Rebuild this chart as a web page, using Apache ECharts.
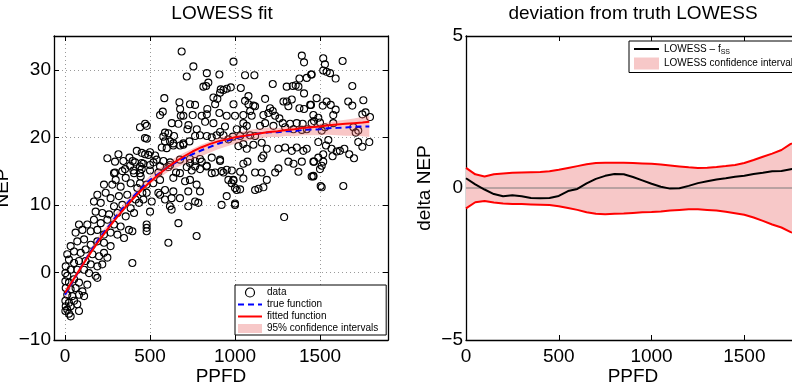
<!DOCTYPE html>
<html><head><meta charset="utf-8">
<script src="https://cdn.jsdelivr.net/npm/echarts@6/dist/echarts.min.js"></script>
<style>html,body{margin:0;padding:0;background:#fff}#c{width:792px;height:385px}</style>
</head><body><div id="c"></div>
<script>
const FONT = '"Liberation Sans", Arial, Helvetica, sans-serif';

// ---------- data ----------
const xTickValues = [0, 500, 1000, 1500];
const leftYTickValues = [-10, 0, 10, 20, 30];
const rightYTickValues = [-5, 0, 5];

// observations [PPFD, NEP]
const dataPoints = [
[1519,31.7],[1529,30.8],[1519,29.9],[1539,29.7],[1559,29.5],[1592,28.7],[1633,31.3],[1451,29.3],[1690,27.6],[1480,25.8],
[1447,24.8],[1516,24.7],[1539,25.3],[1563,24.8],[1592,24.1],[1578,23.3],[1461,23.3],[1490,22.9],[1465,22.4],[1500,22.2],
[1529,21.5],[1510,21.0],[1666,25.3],[1690,24.7],[1755,25.5],[1749,23.4],[1768,23.7],[1794,23.0],[1578,22.1],[1696,21.5],
[1725,21.0],[1710,20.7],[1490,19.3],[1535,18.8],[1549,19.6],[1568,18.3],[1598,17.9],[1574,17.2],[1617,18.0],[1643,18.3],
[1672,17.5],[1700,16.9],[1725,19.3],[1749,18.6],[1790,19.3],[1519,17.5],[1490,17.0],[1465,16.4],[1519,16.4],[1510,15.8],
[1500,15.3],[1461,14.3],[1451,14.2],[1504,12.8],[1510,12.6],[1637,12.8],
[1393,32.1],[1406,31.1],[991,31.2],[1059,29.2],[1114,29.2],[1448,29.3],[1422,28.8],[1379,28.7],[1222,27.9],[975,27.4],
[1034,27.3],[1304,27.5],[1340,27.6],[1357,27.7],[1373,27.5],[1406,26.5],[1177,25.7],[1079,26.1],[1059,25.4],[1108,24.7],
[991,24.9],[1079,24.9],[1118,24.6],[1089,23.9],[1049,23.3],[1098,23.2],[1000,23.2],[1167,23.3],[1206,24.3],[1222,23.9],
[1196,23.6],[1236,23.2],[1442,24.8],[1379,24.3],[1406,24.2],[1285,25.3],[1304,25.3],[1334,25.6],[1314,24.6],[1261,22.8],
[1049,22.1],[1069,21.7],[1010,21.2],[1147,21.7],[1177,22.1],[1118,20.2],[1089,20.3],[1049,21.1],[1226,21.7],[1281,22.1],
[1295,21.5],[1324,22.0],[1363,22.1],[1398,22.0],[1451,22.1],[1344,21.2],[1393,21.1],[1422,21.2],[1030,20.2],[987,20.1],
[1049,19.0],[1069,18.3],[1020,18.7],[1108,18.9],[1157,19.2],[1187,18.3],[1255,18.3],[1295,18.5],[1334,18.0],[1363,18.5],
[1402,18.0],[1422,18.3],[1461,16.4],[1167,17.3],[1157,16.9],[1314,16.4],[1344,16.1],[1393,16.4],[1373,14.9],[1255,15.4],
[1236,14.8],[1157,14.8],[1118,14.8],[1073,16.4],[1049,16.1],[1030,14.9],[1049,13.9],[991,13.6],[1000,12.5],[1030,12.3],
[1118,12.2],[1138,12.4],[1167,12.6],[1187,13.7],[1461,14.2],[981,15.1],[1000,10.2],[1289,8.2],
[686,32.7],[755,30.5],[716,29.0],[834,29.5],[908,29.3],[843,28.1],[830,27.6],[814,27.5],[916,27.1],[951,27.2],
[584,25.8],[673,25.2],[559,23.3],[575,23.8],[677,24.2],[681,23.2],[696,23.2],[735,24.9],[765,24.8],[837,24.2],
[883,24.9],[896,25.7],[873,25.9],[912,26.6],[932,27.0],[951,23.2],[908,23.6],[834,23.4],[804,23.2],[751,23.3],
[628,22.1],[667,22.0],[726,21.8],[471,22.0],[441,21.5],[481,21.7],[481,19.8],[588,20.7],[608,20.6],[641,20.2],
[720,21.2],[775,21.2],[824,22.3],[873,22.1],[912,20.8],[941,21.6],[249,16.9],[314,17.5],[294,16.4],[343,16.5],
[379,17.0],[398,16.5],[422,18.0],[471,17.5],[500,17.8],[530,17.3],[588,19.4],[618,19.4],[569,18.5],[598,18.4],
[637,18.8],[677,18.8],[696,19.1],[732,19.4],[765,20.2],[794,20.3],[834,20.2],[863,20.0],[892,20.3],[932,20.3],
[961,19.7],[383,15.8],[412,16.3],[461,16.1],[520,16.3],[579,16.5],[618,16.3],[735,16.8],[765,16.5],[794,16.8],
[834,15.8],[863,17.0],[912,16.5],[294,14.8],[353,15.3],[402,15.1],[451,15.3],[500,15.1],[549,14.8],[608,15.6],
[653,14.8],[716,15.6],[745,15.1],[794,15.3],[883,14.8],[932,14.8],
[470,19.9],[578,20.1],[637,19.1],[696,18.9],[451,17.7],[490,17.4],[539,16.7],[451,16.2],[500,15.9],[559,15.7],
[618,15.9],[676,16.7],[735,16.2],[765,15.7],[804,16.4],[833,15.7],[863,14.7],[912,16.7],[921,15.0],[951,15.2],
[961,13.7],[980,13.2],[1010,12.2],[990,13.7],[441,13.2],[480,13.0],[519,13.2],[559,13.7],[637,14.0],[676,14.7],
[706,13.5],[735,13.7],[774,13.0],[794,12.0],[725,12.0],[637,12.0],[588,12.2],[549,11.8],[480,11.8],[461,10.8],
[510,10.5],[559,11.5],[588,10.8],[627,11.0],[617,9.8],[627,9.3],[676,11.0],[765,10.5],[725,9.8],[784,10.3],
[921,10.0],[1000,10.0],[951,11.3],[500,9.0],[480,7.1],[480,6.6],[480,6.1],[667,7.3],[774,5.4],[608,4.4],
[441,15.7],[441,14.7],
[288,14.7],[337,15.0],[406,14.7],[445,14.2],[298,13.7],[357,14.0],[229,13.0],[278,13.0],[327,12.7],[386,13.2],
[425,12.5],[455,11.8],[190,11.5],[239,11.8],[170,10.5],[210,10.3],[268,11.0],[317,11.3],[366,11.5],[415,10.8],
[435,10.3],[288,9.8],[337,10.0],[386,9.5],[180,9.0],[219,8.8],[259,8.6],[308,8.8],[357,8.3],[406,8.8],
[131,7.1],[170,7.8],[210,7.3],[249,7.8],[288,7.1],[327,6.8],[376,6.3],[396,6.1],[82,7.1],[62,5.9],
[102,6.3],[151,6.1],[190,6.3],[229,5.6],[268,5.9],[308,5.6],[347,5.1],[33,3.9],[72,4.6],[112,4.9],
[151,4.1],[190,4.6],[229,4.4],[268,3.9],[396,1.4],[13,2.7],[53,3.1],[92,2.9],[121,3.4],[161,2.7],
[200,2.4],[229,2.9],[23,1.9],[53,1.4],[82,1.7],[121,1.7],[151,1.2],[190,0.9],[219,1.2],[249,2.2],
[4,0.9],[2,-0.1],[33,0.4],[72,0.4],[112,0.4],[141,-0.1],[180,-0.5],[190,-0.8],[13,-0.5],[2,-1.3],
[23,-1.5],[53,-1.0],[82,-1.5],[131,-1.8],[4,-2.3],[33,-2.5],[62,-2.3],[102,-2.8],[13,-3.3],[43,-3.5],
[82,-3.3],[112,-3.5],[2,-4.2],[23,-4.5],[53,-4.2],[4,-5.0],[33,-5.0],[72,-4.7],[13,-5.5],[2,-5.7],
[23,-6.1],[82,-5.7],[33,-6.5]
];

// curves in the left panel
const curveX   = [0,50,100,150,200,250,300,350,400,450,500,550,600,650,700,750,800,850,900,950,1000,1050,1100,1150,1200,1250,1300,1350,1400,1450,1500,1550,1600,1650,1700,1750,1790];
const fittedNEP = [-3.0,-1.0,1.0,2.9,4.7,6.4,8.0,9.5,10.9,12.2,13.4,14.5,15.5,16.4,17.2,17.9,18.5,19.0,19.4,19.7,20.0,20.2,20.4,20.6,20.8,20.9,21.1,21.2,21.4,21.5,21.6,21.8,21.9,22.0,22.1,22.2,22.3];
const trueNEP   = [-3.3,-1.1,1.05,3.1,5.0,6.6,8.3,9.8,11.2,12.5,13.7,14.6,15.5,16.25,16.9,17.5,18.05,18.55,19.05,19.45,19.85,20.15,20.4,20.6,20.75,20.75,20.9,20.9,21.1,21.15,21.2,21.35,21.4,21.45,21.55,21.6,21.6];
const ciLowNEP  = [-3.97,-1.57,0.62,2.62,4.49,6.07,7.77,9.26,10.65,11.94,13.1,13.94,14.78,15.45,16.05,16.64,17.2,17.71,18.23,18.65,19.06,19.38,19.66,19.88,20.05,20.05,20.18,20.16,20.32,20.32,20.32,20.38,20.32,20.25,20.25,20.15,20.05];
const ciHighNEP = [-2.6,-0.65,1.4,3.55,5.5,7.1,8.8,10.3,11.7,13.05,14.3,15.3,16.2,17.0,17.7,18.3,18.9,19.4,19.9,20.25,20.65,20.9,21.15,21.3,21.45,21.4,21.55,21.6,21.8,21.9,22.0,22.25,22.45,22.6,22.8,23.05,23.15];

// right panel: deviation from truth
const devX     = [0,50,100,150,200,250,300,350,400,450,500,550,600,650,700,750,800,850,900,950,1000,1050,1100,1150,1200,1250,1300,1350,1400,1450,1500,1550,1600,1650,1700,1750,1800];
const devDiff  = [0.32,0.12,-0.05,-0.2,-0.27,-0.24,-0.27,-0.33,-0.34,-0.33,-0.26,-0.1,-0.03,0.15,0.3,0.4,0.46,0.45,0.36,0.25,0.14,0.04,-0.02,-0.01,0.07,0.16,0.22,0.28,0.32,0.37,0.4,0.46,0.5,0.55,0.56,0.62,0.68];
const devUpper = [0.66,0.45,0.38,0.45,0.48,0.5,0.51,0.52,0.53,0.55,0.6,0.66,0.72,0.78,0.82,0.83,0.83,0.83,0.82,0.81,0.8,0.77,0.74,0.71,0.68,0.66,0.67,0.69,0.72,0.76,0.82,0.92,1.03,1.13,1.25,1.45,1.55];
const devLower = [-0.67,-0.47,-0.43,-0.48,-0.51,-0.53,-0.53,-0.54,-0.55,-0.56,-0.6,-0.66,-0.72,-0.8,-0.85,-0.86,-0.85,-0.84,-0.82,-0.8,-0.79,-0.77,-0.74,-0.72,-0.7,-0.7,-0.72,-0.74,-0.78,-0.83,-0.88,-0.97,-1.08,-1.2,-1.3,-1.45,-1.55];

// ---------- helpers ----------
const zip = (xs, ys) => xs.map((x, i) => [x, ys[i]]);
const minus = v => String(v).replace('-', '\u2212');
const AX = { color: '#000', width: 1.3 };
const tickStyle = { show: true, inside: true, length: 5, lineStyle: { color: '#000', width: 1 } };
const labelStyle = { color: '#000', fontSize: 19, fontFamily: FONT };

function xAx(grid, min, max, bottom) {
  return {
    type: 'value', gridIndex: grid, min, max, position: bottom ? 'bottom' : 'top',
    axisLine: { show: true, onZero: false, lineStyle: AX },
    axisTick: Object.assign({}, tickStyle, { customValues: xTickValues }),
    axisLabel: bottom ? Object.assign({}, labelStyle, { margin: 7, customValues: xTickValues, formatter: minus }) : { show: false },
    splitLine: (bottom && grid === 0) ? { show: true, lineStyle: { color: '#9a9a9a', type: [1, 3], width: 1 } } : { show: false },
    name: bottom ? 'PPFD' : '', nameLocation: 'middle', nameGap: 27, nameMoveOverlap: false,
    nameTextStyle: { color: '#000', fontSize: 19, fontFamily: FONT }
  };
}
function yAx(grid, min, max, ticks, left, name, gap) {
  return {
    type: 'value', gridIndex: grid, min, max, position: left ? 'left' : 'right',
    axisLine: { show: true, onZero: false, lineStyle: AX },
    axisTick: Object.assign({}, tickStyle, { customValues: ticks }),
    axisLabel: left ? Object.assign({}, labelStyle, { margin: 3, customValues: ticks, formatter: minus }) : { show: false },
    splitLine: (left && grid === 0) ? { show: true, lineStyle: { color: '#9a9a9a', type: [1, 3], width: 1 } } : { show: false },
    name: left ? name : '', nameLocation: 'middle', nameGap: gap, nameRotate: 90,
    nameTextStyle: { color: '#000', fontSize: 19, fontFamily: FONT }
  };
}

// band polygon through the library's own coordinate system
function bandSeries(name, xi, yi, xs, lo, hi, fill, z) {
  return {
    name, type: 'custom', xAxisIndex: xi, yAxisIndex: yi, z, silent: true,
    data: [[xs[0], lo[0]]],
    itemStyle: { color: fill },
    clip: true,
    renderItem: (params, api) => {
      const pts = [];
      for (let i = 0; i < xs.length; i++) pts.push(api.coord([xs[i], hi[i]]));
      for (let i = xs.length - 1; i >= 0; i--) pts.push(api.coord([xs[i], lo[i]]));
      return { type: 'polygon', shape: { points: pts }, style: { fill, stroke: null } };
    }
  };
}

const pink = '#f7c8c8';
const noSym = { opacity: 0 };
const option = {
  animation: false,
  backgroundColor: '#fff',
  textStyle: { fontFamily: FONT },
  title: [
    { text: 'LOWESS fit', left: 222, top: 4, textAlign: 'center', padding: 0,
      textStyle: { fontSize: 19, fontWeight: 'normal', color: '#000', fontFamily: FONT } },
    { text: 'deviation from truth LOWESS', left: 633, top: 4, textAlign: 'center', padding: 0,
      textStyle: { fontSize: 19, fontWeight: 'normal', color: '#000', fontFamily: FONT } }
  ],
  grid: [
    { left: 54, top: 36, width: 334, height: 304, outerBoundsMode: 'none', containLabel: false },
    { left: 466, top: 36, width: 334, height: 304, outerBoundsMode: 'none', containLabel: false }
  ],
  xAxis: [xAx(0, -65, 1900, true), xAx(0, -65, 1900, false), xAx(1, 0, 1800, true), xAx(1, 0, 1800, false)],
  yAxis: [yAx(0, -10, 35, leftYTickValues, true, 'NEP', 42), yAx(0, -10, 35, leftYTickValues, false),
          yAx(1, -5, 5, rightYTickValues, true, 'delta NEP', 32), yAx(1, -5, 5, rightYTickValues, false)],
  legend: [
    { orient: 'vertical', left: 235, top: 285, padding: [2, 8, 1, 2], itemGap: 1, itemWidth: 24, itemHeight: 9,
      borderColor: '#000', borderWidth: 1, backgroundColor: '#fff', selectedMode: false,
      textStyle: { fontSize: 10, lineHeight: 11, fontFamily: FONT, color: '#000' },
      data: [
        { name: 'data', icon: 'circle', itemStyle: { color: 'transparent', borderColor: '#000', borderWidth: 1.2 } },
        { name: 'true function', itemStyle: noSym },
        { name: 'fitted function', itemStyle: noSym },
        { name: '95% confidence intervals', icon: 'rect', itemStyle: { color: pink, borderWidth: 0 } }
      ] },
    { orient: 'vertical', left: 629, top: 41, padding: [3, 8, 3, 4], itemGap: 2, itemWidth: 25, itemHeight: 12,
      borderColor: '#000', borderWidth: 1, backgroundColor: '#fff', selectedMode: false,
      textStyle: { fontSize: 10, fontFamily: FONT, color: '#000',
        rich: { a: { fontSize: 10, fontFamily: FONT, color: '#000' },
                s: { fontSize: 7, fontFamily: FONT, color: '#000', padding: [6, 0, 0, 0] } } },
      formatter: n => n === 'LOWESS diff' ? '{a|LOWESS \u2013 f}{s|SS}' : n,
      data: [
        { name: 'LOWESS diff', itemStyle: noSym },
        { name: 'LOWESS confidence interval', icon: 'rect', itemStyle: { color: pink, borderWidth: 0 } }
      ] }
  ],
  series: [
    { name: 'data', type: 'scatter', xAxisIndex: 0, yAxisIndex: 0, data: dataPoints, symbol: 'circle', symbolSize: 7,
      itemStyle: { color: 'transparent', borderColor: '#000', borderWidth: 1.1, opacity: 1 }, silent: true, z: 2 },
    bandSeries('95% confidence intervals', 0, 0, curveX, ciLowNEP, ciHighNEP, 'rgba(238,100,100,0.36)', 3),
    { name: 'true function', type: 'line', xAxisIndex: 0, yAxisIndex: 0, data: zip(curveX, trueNEP), symbol: 'none',
      lineStyle: { color: '#0000ff', width: 2, type: [6, 4] }, itemStyle: { color: '#0000ff' }, z: 4 },
    { name: 'fitted function', type: 'line', xAxisIndex: 0, yAxisIndex: 0, data: zip(curveX, fittedNEP), symbol: 'none',
      lineStyle: { color: '#ff0000', width: 2 }, itemStyle: { color: '#ff0000' }, z: 5 },

    bandSeries('LOWESS confidence interval', 2, 2, devX, devLower, devUpper, pink, 2),
    { name: 'zero', type: 'line', xAxisIndex: 2, yAxisIndex: 2, data: [[0, 0], [1800, 0]], symbol: 'none',
      lineStyle: { color: '#7a7a7a', width: 1 }, z: 3 },
    { name: 'devUpper', type: 'line', xAxisIndex: 2, yAxisIndex: 2, data: zip(devX, devUpper), symbol: 'none',
      lineStyle: { color: '#ff0000', width: 2 }, z: 4 },
    { name: 'devLower', type: 'line', xAxisIndex: 2, yAxisIndex: 2, data: zip(devX, devLower), symbol: 'none',
      lineStyle: { color: '#ff0000', width: 2 }, z: 4 },
    { name: 'LOWESS diff', type: 'line', xAxisIndex: 2, yAxisIndex: 2, data: zip(devX, devDiff), symbol: 'none',
      lineStyle: { color: '#000', width: 2 }, itemStyle: { color: '#000' }, z: 5 }
  ]
};
const chart = echarts.init(document.getElementById('c'), null, { renderer: 'canvas' });
chart.setOption(option);
</script></body></html>
